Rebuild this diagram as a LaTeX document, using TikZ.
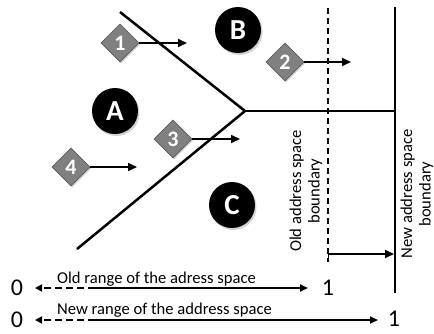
\documentclass[tikz,border=0pt]{standalone}
\usepackage{fontspec}
\setmainfont{Carlito}
\usetikzlibrary{arrows.meta,shapes.geometric,shadows}
\definecolor{tagfill}{HTML}{808080}
\definecolor{tagedge}{HTML}{5A5A5A}
\begin{document}
\begin{tikzpicture}[x=1pt,y=-1pt,
  wall/.style={line width=2.5pt},
  oldwall/.style={line width=2.2pt, dash pattern=on 6pt off 4pt},
  move/.style={line width=1.9pt, -{Triangle[length=9pt,width=8pt]}},
  tag/.style={diamond, draw=tagedge, fill=tagfill, line width=0.8pt,
    minimum width=38pt, minimum height=38pt, inner sep=0pt, text=white,
    font=\fontsize{22}{22}\selectfont\bfseries,
    drop shadow={shadow xshift=1.2pt, shadow yshift=-1.5pt, opacity=0.35}},
  region/.style={circle, fill=black, minimum size=46pt, inner sep=0pt,
    text=white, font=\fontsize{29}{29}\selectfont\bfseries,
    drop shadow={shadow xshift=1.5pt, shadow yshift=-2pt, opacity=0.35}},
  caption/.style={font=\fontsize{16.6}{18.5}\selectfont, inner sep=0pt},
  digit/.style={font=\fontsize{24}{24}\selectfont, inner sep=0pt},
  rangeline/.style={line width=1.9pt},
]
\useasboundingbox (0,0) rectangle (434,333);

% fork of the three regions
\coordinate (v) at (245,111);
\coordinate (up) at (120,12);
\coordinate (lo) at (77,249);
\coordinate (hz) at (395,111);
\draw[wall] (up) -- (v) -- (lo);
\draw[wall] (v) -- (hz);

% address space boundaries
\coordinate (nt) at (395,7);
\coordinate (nb) at (395,293);
\coordinate (ot) at (328,8);
\coordinate (ob) at (328,262);
\draw[wall] (nt) -- (nb);
\draw[oldwall] (ot) -- (ob);
\coordinate (gs) at (328,254);
\coordinate (ge) at (394,254);
\draw[line width=1.9pt, {Bar[width=7pt,line width=1pt]}-{Triangle[length=9pt,width=8pt]}] (gs) -- (ge);

% region markers
\node[region] (A) at (115,111) {A};
\node[region] (B) at (238,30) {B};
\node[region] (C) at (232,205) {C};

% numbered movements
\node[tag] (d1) at (120,43) {1};
\node[tag] (d2) at (285,62) {2};
\node[tag] (d3) at (173,139) {3};
\node[tag] (d4) at (71,167) {4};
\coordinate (e1) at (187,43);
\coordinate (e2) at (351,62);
\coordinate (e3) at (240,139);
\coordinate (e4) at (137,167);
\draw[move] (d1.east) -- (e1);
\draw[move] (d2.east) -- (e2);
\draw[move] (d3.east) -- (e3);
\draw[move] (d4.east) -- (e4);

% boundary captions
\node[caption, rotate=90, align=center] (oc) at (306,191) {Old address space\\boundary};
\node[caption, rotate=90, align=center] (nc) at (417,194) {New address space\\boundary};

% ranges of the address space
\node[digit] (z1) at (17,288) {0};
\node[digit] (u1) at (328,288) {1};
\node[digit] (z2) at (17,320) {0};
\node[digit] (u2) at (394,319) {1};
\coordinate (m1) at (95,288);
\coordinate (m2) at (95,320);
\coordinate (l1) at (35,288);
\coordinate (l2) at (35,320);
\coordinate (r1) at (308,288);
\coordinate (r2) at (378,320);
\draw[rangeline, dash pattern=on 7pt off 4pt, -{Triangle[length=7pt,width=7pt]}] (m1) -- (l1);
\draw[rangeline, -{Triangle[length=8pt,width=7pt]}] (m1) -- (r1);
\draw[rangeline, dash pattern=on 7pt off 4pt, -{Triangle[length=7pt,width=7pt]}] (m2) -- (l2);
\draw[rangeline, -{Triangle[length=8pt,width=7pt]}] (m2) -- (r2);
\node[caption, anchor=base west] (t1) at (57,283) {Old range of the adress space};
\node[caption, anchor=base west] (t2) at (57,314) {New range of the address space};
\end{tikzpicture}
\end{document}
